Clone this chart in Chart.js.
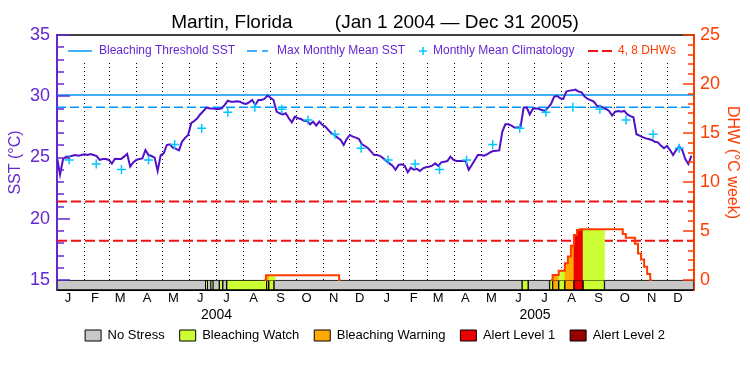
<!DOCTYPE html>
<html>
<head>
<meta charset="utf-8">
<script src="https://cdn.jsdelivr.net/npm/chart.js@4/dist/chart.umd.min.js"></script>
<style>
  html, body { margin: 0; padding: 0; background: #fff; }
  #wrap { width: 750px; height: 375px; }
</style>
</head>
<body>
<div id="wrap"><canvas id="chart" width="750" height="375"></canvas></div>
<script>
// Twice-weekly SST (deg C), first value on Jan 1 2004, one every 3.5 days
const sstStepDays = 3.5;
const sst = [
  25.0, 23.6, 24.88, 25.07, 25.07, 25.15, 25.2, 25.15, 25.2, 25.26,
  25.2, 25.28, 25.2, 25.12, 24.8, 24.88, 24.88, 24.8, 24.5, 24.9,
  24.88, 24.88, 25.07, 25.3, 24.25, 24.6, 24.8, 24.88, 24.93, 25.61,
  25.2, 25.12, 24.99, 23.9, 25.2, 25.34, 26.02, 26.07, 25.8, 25.7,
  25.58, 26.3, 26.6, 26.84, 27.8, 27.98, 28.2, 28.53, 28.8, 29.07,
  29.01, 29.01, 28.95, 28.95, 29.01, 29.29, 29.64, 29.56, 29.56, 29.6,
  29.56, 29.42, 29.37, 29.5, 29.69, 29.29, 29.69, 29.69, 29.78, 30.05,
  29.88, 29.69, 28.74, 28.61, 28.52, 28.61, 28.2, 27.87, 28.33, 28.2,
  28.14, 28.0, 27.98, 27.71, 27.93, 27.6, 27.93, 27.65, 27.52, 27.24,
  26.97, 26.84, 26.62, 26.43, 26.02, 26.51, 26.84, 26.7, 26.62, 26.51,
  26.07, 25.94, 25.75, 25.48, 25.2, 25.2, 25.12, 24.93, 24.71, 24.52,
  24.33, 24.0, 24.39, 24.44, 24.33, 23.8, 24.17, 24.0, 24.07, 23.9,
  24.12, 24.2, 24.25, 24.33, 24.52, 24.31, 24.6, 24.66, 24.71, 25.07,
  24.8, 24.71, 24.71, 24.71, 24.71, 24.0, 24.39, 24.8, 25.2, 25.2,
  25.15, 25.26, 25.42, 25.53, 25.56, 25.58, 27.1, 27.71, 27.71, 27.6,
  27.44, 27.44, 27.52, 29.07, 29.1, 28.52, 28.96, 29.01, 28.96, 28.88,
  28.8, 29.07, 29.37, 29.97, 30.02, 29.83, 29.78, 30.38, 30.46, 30.48,
  30.54, 30.38, 30.32, 29.97, 29.78, 29.69, 29.56, 29.23, 29.2, 29.07,
  28.96, 28.8, 28.42, 28.74, 28.8, 28.74, 28.8, 28.52, 28.38, 28.28,
  26.9, 26.78, 26.67, 26.56, 26.51, 26.43, 26.29, 26.24, 25.97, 25.75,
  25.94, 25.61, 25.2, 25.61, 25.91, 25.61, 24.88, 24.47, 25.15
];

const maxMonthlyMean = 29.1;
const bleachingThreshold = 30.1;
const climatology = [24.8, 24.47, 24.03, 24.8, 26.07, 27.38, 28.69, 29.1, 28.93, 28.06, 26.89, 25.75];
const dhwLevels = [4, 8];

// Degree heating weeks, same twice-weekly step
const dhw2004StartDay = 238;
const dhw2004 = [
  0, 0.48, 0.48, 0.48, 0.48, 0.48, 0.48, 0.48, 0.48, 0.48, 0.48, 0.48, 0.48,
  0.48, 0.48, 0.48, 0.48, 0.48, 0.48, 0.48, 0.48, 0.48, 0.48, 0.48, 0.48, 0
];
const dhw2005StartDay = 567;
const dhw2005 = [
  0, 0.5, 0.5, 0.95, 0.95, 1.7, 2.4, 3.5, 4.6, 5.1, 5.17, 5.17, 5.17, 5.17,
  5.17, 5.17, 5.17, 5.17, 5.17, 5.17, 5.17, 5.17, 5.17, 5.17, 4.7, 4.3, 4.3,
  4.3, 3.7, 2.7, 2.1, 1.36, 0.6, 0
];

// Stress level periods (days from Jan 1 2004)
const statusFrom  = [0, 170.6, 172.5, 176.7, 179, 186.3, 190.2, 194.7, 240.6, 243, 249, 533.75, 540.75, 565.25, 568.75, 575.75, 582.75, 593.25, 603.75, 628.25];
const statusTo    = [170.6, 172.5, 176.7, 179, 186.3, 190.2, 194.7, 240.6, 243, 249, 533.75, 540.75, 565.25, 568.75, 575.75, 582.75, 593.25, 603.75, 628.25, 731];
const statusLevel = [0, 1, 0, 1, 0, 1, 0, 1, 2, 1, 0, 1, 0, 1, 2, 1, 2, 3, 1, 0];

const statusNames  = ['No Stress', 'Bleaching Watch', 'Bleaching Warning', 'Alert Level 1', 'Alert Level 2'];
const statusColors = ['#c8c8c8', '#ccff33', '#ffaa00', '#ee0000', '#990000'];

const monthLetters = ['J', 'F', 'M', 'A', 'M', 'J', 'J', 'A', 'S', 'O', 'N', 'D'];
const years = ['2004', '2005'];

const PURPLE = '#6428d2';
const LINE_PURPLE = '#5010c8';
const ORANGE = '#ff3c00';
const RED = '#ee1111';
const BLUE = '#0096ff';
const CYAN = '#00c8ff';
const FONT = "'Liberation Sans', Arial, sans-serif";

Chart.defaults.font.family = FONT;

// calendar helpers, days counted from Jan 1 2004
const day0 = Date.UTC(2004, 0, 1);
const monthStarts = [];
for (let i = 0; i <= 24; i++) {
    monthStarts.push((Date.UTC(2004, i, 1) - day0) / 86400000);
}
const lastDay = monthStarts[24];
const monthTicks = monthStarts.slice(0, 24).map(d => d + 12.5);
const monthLabels = monthTicks.map((d, i) => monthLetters[i % 12]);
const yearMids = [(monthStarts[0] + monthStarts[12]) / 2, (monthStarts[12] + monthStarts[24]) / 2];

const sstMin = 15 - 10 / 12.25;
const dhwMin = -10 / 9.8;
const statusY = (15 + sstMin) / 2;

function statusAt(day)
{
    for (let i = 0; i < statusFrom.length; i++) {
        if (day >= statusFrom[i] && day < statusTo[i]) {
            return statusLevel[i];
        }
    }
    return 0;
}

const sstPoints = sst.map((v, i) => ({ x: i * sstStepDays, y: v }));
const climPoints = monthStarts.slice(0, 24).map((d, i) => ({ x: d + 14, y: climatology[i % 12] }));

const dhwPoints = [];
dhw2004.forEach((v, i) => dhwPoints.push({ x: dhw2004StartDay + i * sstStepDays, y: v }));
dhwPoints.push({ x: 400, y: null });
dhw2005.forEach((v, i) => dhwPoints.push({ x: dhw2005StartDay + i * sstStepDays, y: v }));

const fillPoints = dhwPoints.filter(p => p.y !== null && p.y > 0);
const fillColors = fillPoints.map(p => {
    const level = statusAt(p.x);
    return level === 0 ? 'rgba(0,0,0,0)' : statusColors[level];
});

const flatLine = (v) => [{ x: 0, y: v }, { x: lastDay, y: v }];

// Month dotted lines, inward ticks, top frame, year labels and the in-plot key
const framePlugin = {
    id: 'frame',
    beforeDatasetsDraw(chart) {
        const { ctx, chartArea, scales } = chart;
        const top = chartArea.top + 28;
        const bottom = scales.y.getPixelForValue(15);

        ctx.save();
        ctx.strokeStyle = '#000';
        ctx.lineWidth = 1;
        ctx.setLineDash([1, 3]);
        monthStarts.slice(1, 24).forEach(d => {
            const px = Math.round(scales.x.getPixelForValue(d)) + 0.5;
            ctx.beginPath();
            ctx.moveTo(px, top);
            ctx.lineTo(px, bottom);
            ctx.stroke();
        });
        ctx.restore();
    },
    afterDatasetsDraw(chart) {
        const { ctx, chartArea, scales } = chart;

        ctx.save();
        // top frame
        ctx.strokeStyle = '#000';
        ctx.lineWidth = 1.5;
        ctx.beginPath();
        ctx.moveTo(chartArea.left, chartArea.top);
        ctx.lineTo(chartArea.right, chartArea.top);
        ctx.stroke();

        // inward ticks
        ctx.lineWidth = 1.5;
        ctx.strokeStyle = PURPLE;
        for (let v = 15; v <= 35; v++) {
            const py = Math.round(scales.y.getPixelForValue(v));
            const len = v % 5 === 0 ? 13 : 7;
            ctx.beginPath();
            ctx.moveTo(chartArea.left, py);
            ctx.lineTo(chartArea.left + len, py);
            ctx.stroke();
        }
        ctx.strokeStyle = ORANGE;
        for (let v = 0; v <= 25; v++) {
            const py = Math.round(scales.y2.getPixelForValue(v));
            const len = v % 5 === 0 ? 11 : 6;
            ctx.beginPath();
            ctx.moveTo(chartArea.right, py);
            ctx.lineTo(chartArea.right - len, py);
            ctx.stroke();
        }

        // year labels under the month letters
        ctx.fillStyle = '#000';
        ctx.font = '14px ' + FONT;
        ctx.textAlign = 'center';
        ctx.textBaseline = 'middle';
        yearMids.forEach((d, i) => {
            ctx.fillText(years[i], scales.x.getPixelForValue(d), scales.x.top + 25);
        });

        // key inside the plot
        const x0 = chartArea.left;
        const ky = chartArea.top + 16;
        ctx.font = '12px ' + FONT;
        ctx.textAlign = 'left';

        ctx.lineWidth = 1.5;
        ctx.strokeStyle = BLUE;
        ctx.beginPath();
        ctx.moveTo(x0 + 11, ky);
        ctx.lineTo(x0 + 35, ky);
        ctx.stroke();
        ctx.fillStyle = PURPLE;
        ctx.fillText('Bleaching Threshold SST', x0 + 42, ky);

        ctx.setLineDash([10, 5]);
        ctx.beginPath();
        ctx.moveTo(x0 + 190, ky);
        ctx.lineTo(x0 + 211, ky);
        ctx.stroke();
        ctx.setLineDash([]);
        ctx.fillText('Max Monthly Mean SST', x0 + 220, ky);

        ctx.strokeStyle = CYAN;
        ctx.beginPath();
        ctx.moveTo(x0 + 362, ky);
        ctx.lineTo(x0 + 370, ky);
        ctx.moveTo(x0 + 366, ky - 4);
        ctx.lineTo(x0 + 366, ky + 4);
        ctx.stroke();
        ctx.fillText('Monthly Mean Climatology', x0 + 376, ky);

        ctx.strokeStyle = RED;
        ctx.lineWidth = 2;
        ctx.setLineDash([10, 4]);
        ctx.beginPath();
        ctx.moveTo(x0 + 531, ky);
        ctx.lineTo(x0 + 555, ky);
        ctx.stroke();
        ctx.setLineDash([]);
        ctx.fillStyle = ORANGE;
        ctx.fillText('4, 8 DHWs', x0 + 561, ky);
        ctx.restore();
    }
};

new Chart(document.getElementById('chart'), {
    type: 'line',
    data: {
        datasets: [
            {
                label: 'Monthly Mean Climatology',
                data: climPoints,
                showLine: false,
                pointStyle: 'cross',
                pointRadius: 4.5,
                pointBorderWidth: 1.5,
                borderColor: CYAN,
                backgroundColor: CYAN,
                xAxisID: 'x',
                yAxisID: 'y',
                order: 0
            },
            {
                label: 'SST',
                data: sstPoints,
                borderColor: LINE_PURPLE,
                borderWidth: 2,
                pointRadius: 0,
                tension: 0,
                xAxisID: 'x',
                yAxisID: 'y',
                order: 1
            },
            {
                label: 'Bleaching Threshold SST',
                data: flatLine(bleachingThreshold),
                borderColor: BLUE,
                borderWidth: 1.5,
                pointRadius: 0,
                xAxisID: 'x',
                yAxisID: 'y',
                order: 2
            },
            {
                label: 'Max Monthly Mean SST',
                data: flatLine(maxMonthlyMean),
                borderColor: BLUE,
                borderWidth: 1.5,
                borderDash: [9, 4],
                pointRadius: 0,
                xAxisID: 'x',
                yAxisID: 'y',
                order: 3
            },
            {
                label: 'DHW',
                data: dhwPoints,
                stepped: 'middle',
                spanGaps: false,
                borderColor: ORANGE,
                borderWidth: 2,
                pointRadius: 0,
                xAxisID: 'x',
                yAxisID: 'y2',
                order: 4
            },
            {
                type: 'bar',
                label: 'DHW fill',
                data: fillPoints,
                backgroundColor: fillColors,
                borderWidth: 0,
                grouped: false,
                barPercentage: 1,
                categoryPercentage: 1,
                xAxisID: 'x',
                yAxisID: 'y2',
                order: 5
            },
            {
                type: 'bar',
                label: 'Stress level',
                indexAxis: 'y',
                data: statusFrom.map((s, i) => ({ x: [s, statusTo[i]], y: statusY })),
                backgroundColor: statusLevel.map(l => statusColors[l]),
                borderColor: '#000',
                borderWidth: 1,
                borderSkipped: false,
                grouped: false,
                barThickness: 10,
                xAxisID: 'xs',
                yAxisID: 'y',
                order: 6
            },
            {
                label: '4 DHW',
                data: flatLine(dhwLevels[0]),
                borderColor: RED,
                borderWidth: 2,
                borderDash: [10, 4],
                pointRadius: 0,
                xAxisID: 'x',
                yAxisID: 'y2',
                order: 7
            },
            {
                label: '8 DHW',
                data: flatLine(dhwLevels[1]),
                borderColor: RED,
                borderWidth: 2,
                borderDash: [10, 4],
                pointRadius: 0,
                xAxisID: 'x',
                yAxisID: 'y2',
                order: 8
            }
        ]
    },
    options: {
        responsive: false,
        animation: false,
        devicePixelRatio: 1,
        layout: { padding: { left: 0, right: 0, top: 0, bottom: 23 } },
        plugins: {
            title: {
                display: true,
                text: 'Martin, Florida        (Jan 1 2004 \u2014 Dec 31 2005)',
                color: '#000',
                font: { size: 19, weight: 'normal' },
                padding: { top: 11.6, bottom: 0.6 }
            },
            legend: {
                position: 'bottom',
                onClick: null,
                labels: {
                    boxWidth: 16,
                    boxHeight: 11,
                    padding: 15,
                    color: '#000',
                    font: { size: 13 },
                    generateLabels: () => statusNames.map((name, i) => ({
                        text: name,
                        fillStyle: statusColors[i],
                        strokeStyle: '#000',
                        lineWidth: 1,
                        fontColor: '#000',
                        hidden: false
                    }))
                }
            },
            tooltip: { enabled: false }
        },
        scales: {
            x: {
                type: 'linear',
                position: 'bottom',
                min: 0,
                max: lastDay,
                offset: false,
                afterBuildTicks: s => { s.ticks = monthTicks.map(v => ({ value: v })); },
                afterFit: s => { s.height = 24; },
                grid: { display: false, drawTicks: false, offset: false },
                border: { display: true, color: '#000', width: 1 },
                ticks: {
                    autoSkip: false,
                    maxRotation: 0,
                    padding: 1,
                    color: '#000',
                    font: { size: 13 },
                    callback: (v, i) => monthLabels[i]
                }
            },
            xs: {
                type: 'linear',
                display: false,
                offset: false,
                min: 0,
                max: lastDay
            },
            y: {
                type: 'linear',
                position: 'left',
                min: sstMin,
                max: 35,
                offset: false,
                afterBuildTicks: s => { s.ticks = [15, 20, 25, 30, 35].map(v => ({ value: v })); },
                afterFit: s => { s.width = 57; },
                grid: { display: false, drawTicks: false, offset: false },
                border: { display: true, color: PURPLE, width: 2 },
                ticks: { color: PURPLE, padding: 7, font: { size: 18 } },
                title: {
                    display: true,
                    text: 'SST (\u00b0C)',
                    color: PURPLE,
                    font: { size: 16 },
                    padding: { top: 6, bottom: 0 }
                }
            },
            y2: {
                type: 'linear',
                position: 'right',
                min: dhwMin,
                max: 25,
                offset: false,
                afterBuildTicks: s => { s.ticks = [0, 5, 10, 15, 20, 25].map(v => ({ value: v })); },
                afterFit: s => { s.width = 56; },
                grid: { display: false, drawTicks: false, offset: false },
                border: { display: true, color: ORANGE, width: 2 },
                ticks: { color: ORANGE, padding: 6, font: { size: 18 } },
                title: {
                    display: true,
                    text: 'DHW (\u00b0C week)',
                    color: ORANGE,
                    font: { size: 16 },
                    padding: { top: 8, bottom: 0 }
                }
            }
        }
    },
    plugins: [framePlugin]
});
</script>
</body>
</html>
